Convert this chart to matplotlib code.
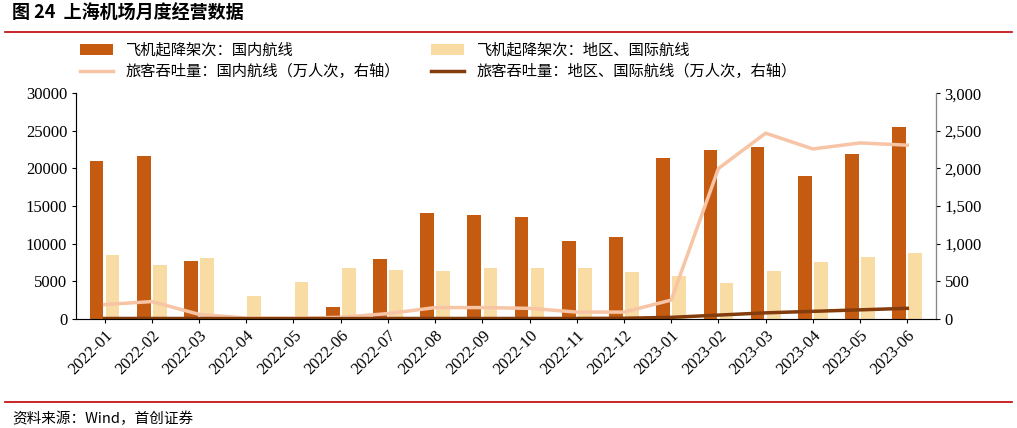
import matplotlib
matplotlib.use("Agg")
import matplotlib.pyplot as plt
import numpy as np

months = ["2022-01","2022-02","2022-03","2022-04","2022-05","2022-06","2022-07","2022-08","2022-09",
          "2022-10","2022-11","2022-12","2023-01","2023-02","2023-03","2023-04","2023-05","2023-06"]
dom_flights = [21000,21600,7700,0,0,1600,7900,14100,13800,13600,10300,10900,21400,22400,22900,19000,21900,25500]
intl_flights = [8500,7200,8100,3000,4900,6700,6500,6300,6700,6800,6700,6200,5700,4800,6400,7600,8200,8700]
dom_pax = [190,230,60,10,10,20,70,150,150,140,90,90,250,2000,2470,2260,2340,2310]
intl_pax = [5,5,5,3,3,3,5,5,5,5,5,8,20,50,80,100,120,140]

cjk = "Noto Sans CJK SC"
serif = "Liberation Serif"
fig = plt.figure(figsize=(10.17, 4.28), dpi=100)
ax = fig.add_axes([0.075, 0.255, 0.845, 0.527])
ax2 = ax.twinx()
x = np.arange(len(months))
w = 0.29
b1 = ax.bar(x - 0.17, dom_flights, w, color="#C55A11", label="飞机起降架次：国内航线")
b2 = ax.bar(x + 0.17, intl_flights, w, color="#F8DCA4", label="飞机起降架次：地区、国际航线")
l1, = ax2.plot(x, dom_pax, color="#F7C4A5", lw=2.5, label="旅客吞吐量：国内航线（万人次，右轴）")
l2, = ax2.plot(x, intl_pax, color="#843C0C", lw=2.5, label="旅客吞吐量：地区、国际航线（万人次，右轴）")
ax.set_ylim(0, 30000); ax2.set_ylim(0, 3000)
ax.set_yticks(range(0, 30001, 5000))
ax2.set_yticks(range(0, 3001, 500))
ax2.set_yticklabels([f"{v:,}" for v in range(0, 3001, 500)])
ax.set_xlim(-0.6, len(months) - 0.4)
ax.set_xticks(x)
ax.set_xticklabels(months, rotation=45, ha="right", rotation_mode="anchor")
for a in (ax, ax2):
    a.spines["top"].set_visible(False)
    a.tick_params(labelsize=12, length=3)
    for t in a.get_yticklabels() + a.get_xticklabels():
        t.set_fontfamily(serif)
ax.spines["left"].set_color("#888"); ax2.spines["right"].set_color("#888")
ax.spines["bottom"].set_color("#888")
fig.legend(handles=[b1, l1, b2, l2], loc="upper left", bbox_to_anchor=(0.065, 0.935), ncol=2,
           frameon=False, prop={"family": cjk, "size": 11}, columnspacing=2.0, handlelength=2.2,
           labelspacing=0.3)
fig.text(0.012, 0.955, "图 24  上海机场月度经营数据", fontfamily=cjk, fontsize=13, fontweight="bold")
fig.add_artist(plt.Line2D([0.005, 0.995], [0.925, 0.925], color="#C00000", lw=1.2))
fig.add_artist(plt.Line2D([0.005, 0.995], [0.06, 0.06], color="#C00000", lw=1.2))
fig.text(0.012, 0.012, "资料来源：Wind，首创证券", fontfamily=cjk, fontsize=10.5, style="italic")
fig.savefig("out.png", dpi=100)
